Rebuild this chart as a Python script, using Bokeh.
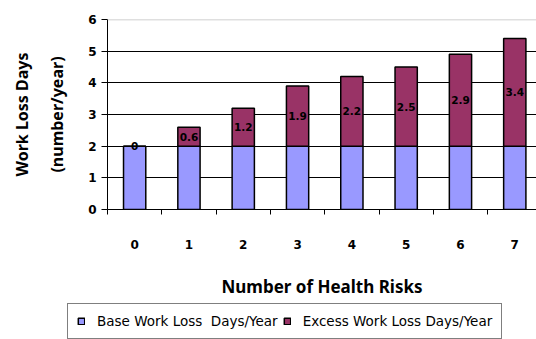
from bokeh.plotting import figure
from bokeh.layouts import column, row
from bokeh.models import (ColumnDataSource, Range1d, FixedTicker, LinearAxis, Legend,
                          LegendItem, Span)
from bokeh.core.properties import value
from bokeh.embed import file_html
from bokeh.resources import INLINE

risks = [0, 1, 2, 3, 4, 5, 6, 7]
tick_labels = ["0", "1", "2", "3", "4", "5", "6", "7"]
base_days = [2, 2, 2, 2, 2, 2, 2, 2]
excess_days = [0, 0.6, 1.2, 1.9, 2.2, 2.5, 2.9, 3.4]
series_names = ["Base Work Loss  Days/Year", "Excess Work Loss Days/Year"]
colors = ["#9999FF", "#993366"]
y_ticks = [0, 1, 2, 3, 4, 5, 6]

src = ColumnDataSource(dict(
    x=risks, base=base_days, excess=excess_days,
    label_y=[b + e / 2 for b, e in zip(base_days, excess_days)],
    label=[f"{e:g}" for e in excess_days],
))

p = figure(width=536, height=300, output_backend="svg", toolbar_location=None,
           x_range=Range1d(-0.5, 7.4), y_range=Range1d(0, 6),
           min_border_left=107, min_border_right=0, min_border_top=19,
           min_border_bottom=91)
p.outline_line_color = None
p.background_fill_color = "white"
p.border_fill_color = "white"

rs = p.vbar_stack(["base", "excess"], x="x", width=0.41, source=src,
                  fill_color=colors, line_color="black", line_width=1.5)

p.text(x="x", y="label_y", text="label", source=src, text_align="center",
       text_baseline="middle", text_font=value("DejaVu Sans"),
       text_font_size="10.5px", text_font_style="bold", text_color="black")

# grid
p.xgrid.visible = False
p.ygrid.ticker = FixedTicker(ticks=[1, 2, 3, 4, 5])
p.ygrid.grid_line_color = "black"
p.ygrid.grid_line_width = 1
p.add_layout(Span(location=6, dimension="width", line_color="#c0c0c0", line_width=1.5))

# y axis
ya = p.yaxis[0]
ya.ticker = FixedTicker(ticks=y_ticks)
ya.axis_line_color = "black"
ya.major_tick_line_color = "black"
ya.major_tick_out = 6
ya.major_tick_in = 0
ya.minor_tick_line_color = None
ya.major_label_standoff = 5
ya.major_label_text_font = "DejaVu Sans"
ya.major_label_text_font_style = "bold"
ya.major_label_text_font_size = "12px"
ya.major_label_text_color = "black"
ya.axis_label = "(number/year)"
ya.axis_label_standoff = 17
ya.axis_label_text_font = "Noto Sans"
ya.axis_label_text_font_style = "bold"
ya.axis_label_text_font_size = "16px"
ya.axis_label_text_color = "black"

outer = LinearAxis(axis_label="Work Loss Days", ticker=FixedTicker(ticks=[]),
                   axis_line_color=None, major_tick_line_color=None,
                   minor_tick_line_color=None, axis_label_standoff=11,
                   axis_label_text_font="Noto Sans", axis_label_text_font_style="bold",
                   axis_label_text_font_size="16px", axis_label_text_color="black")
p.add_layout(outer, "left")

# x axis
xa = p.xaxis[0]
xa.ticker = FixedTicker(ticks=risks, minor_ticks=[r - 0.5 for r in risks])
xa.major_label_overrides = {r: t for r, t in zip(risks, tick_labels)}
xa.axis_line_color = "black"
xa.major_tick_out = 0
xa.major_tick_in = 0
xa.minor_tick_line_color = "black"
xa.minor_tick_out = 5
xa.minor_tick_in = 0
xa.major_label_standoff = 25
xa.major_label_text_font = "DejaVu Sans"
xa.major_label_text_font_style = "bold"
xa.major_label_text_font_size = "12px"
xa.major_label_text_color = "black"
xa.axis_label = "Number of Health Risks"
xa.axis_label_standoff = 23
xa.axis_label_text_font = "Noto Sans"
xa.axis_label_text_font_style = "bold"
xa.axis_label_text_font_size = "17px"
xa.axis_label_text_color = "black"

# legend strip below the chart
lf = figure(width=536, height=39, output_backend="svg", toolbar_location=None,
            x_axis_type=None, y_axis_type=None, x_range=Range1d(0, 1), y_range=Range1d(0, 1),
            min_border_left=0, min_border_right=0, min_border_top=0, min_border_bottom=0)
lf.outline_line_color = None
lf.xgrid.visible = False
lf.ygrid.visible = False
lrs = lf.vbar_stack(["base", "excess"], x="x", width=0.41, source=src,
                    fill_color=colors, line_color="black", line_width=1.5, visible=False)

legend = Legend(items=[LegendItem(label=series_names[0], renderers=[lrs[0]]),
                       LegendItem(label=series_names[1], renderers=[lrs[1]])],
                orientation="horizontal", location=(67, 0), margin=0,
                glyph_width=8, glyph_height=8, label_standoff=12, spacing=5,
                padding=9, border_line_color="black", border_line_width=1,
                background_fill_color="white", background_fill_alpha=1,
                label_text_font="DejaVu Sans", label_text_font_size="13.5px",
                label_text_color="black")
lf.add_layout(legend)

layout = column(p, row(lf, spacing=0), spacing=0)
open("out.html", "w").write(file_html(layout, INLINE))
